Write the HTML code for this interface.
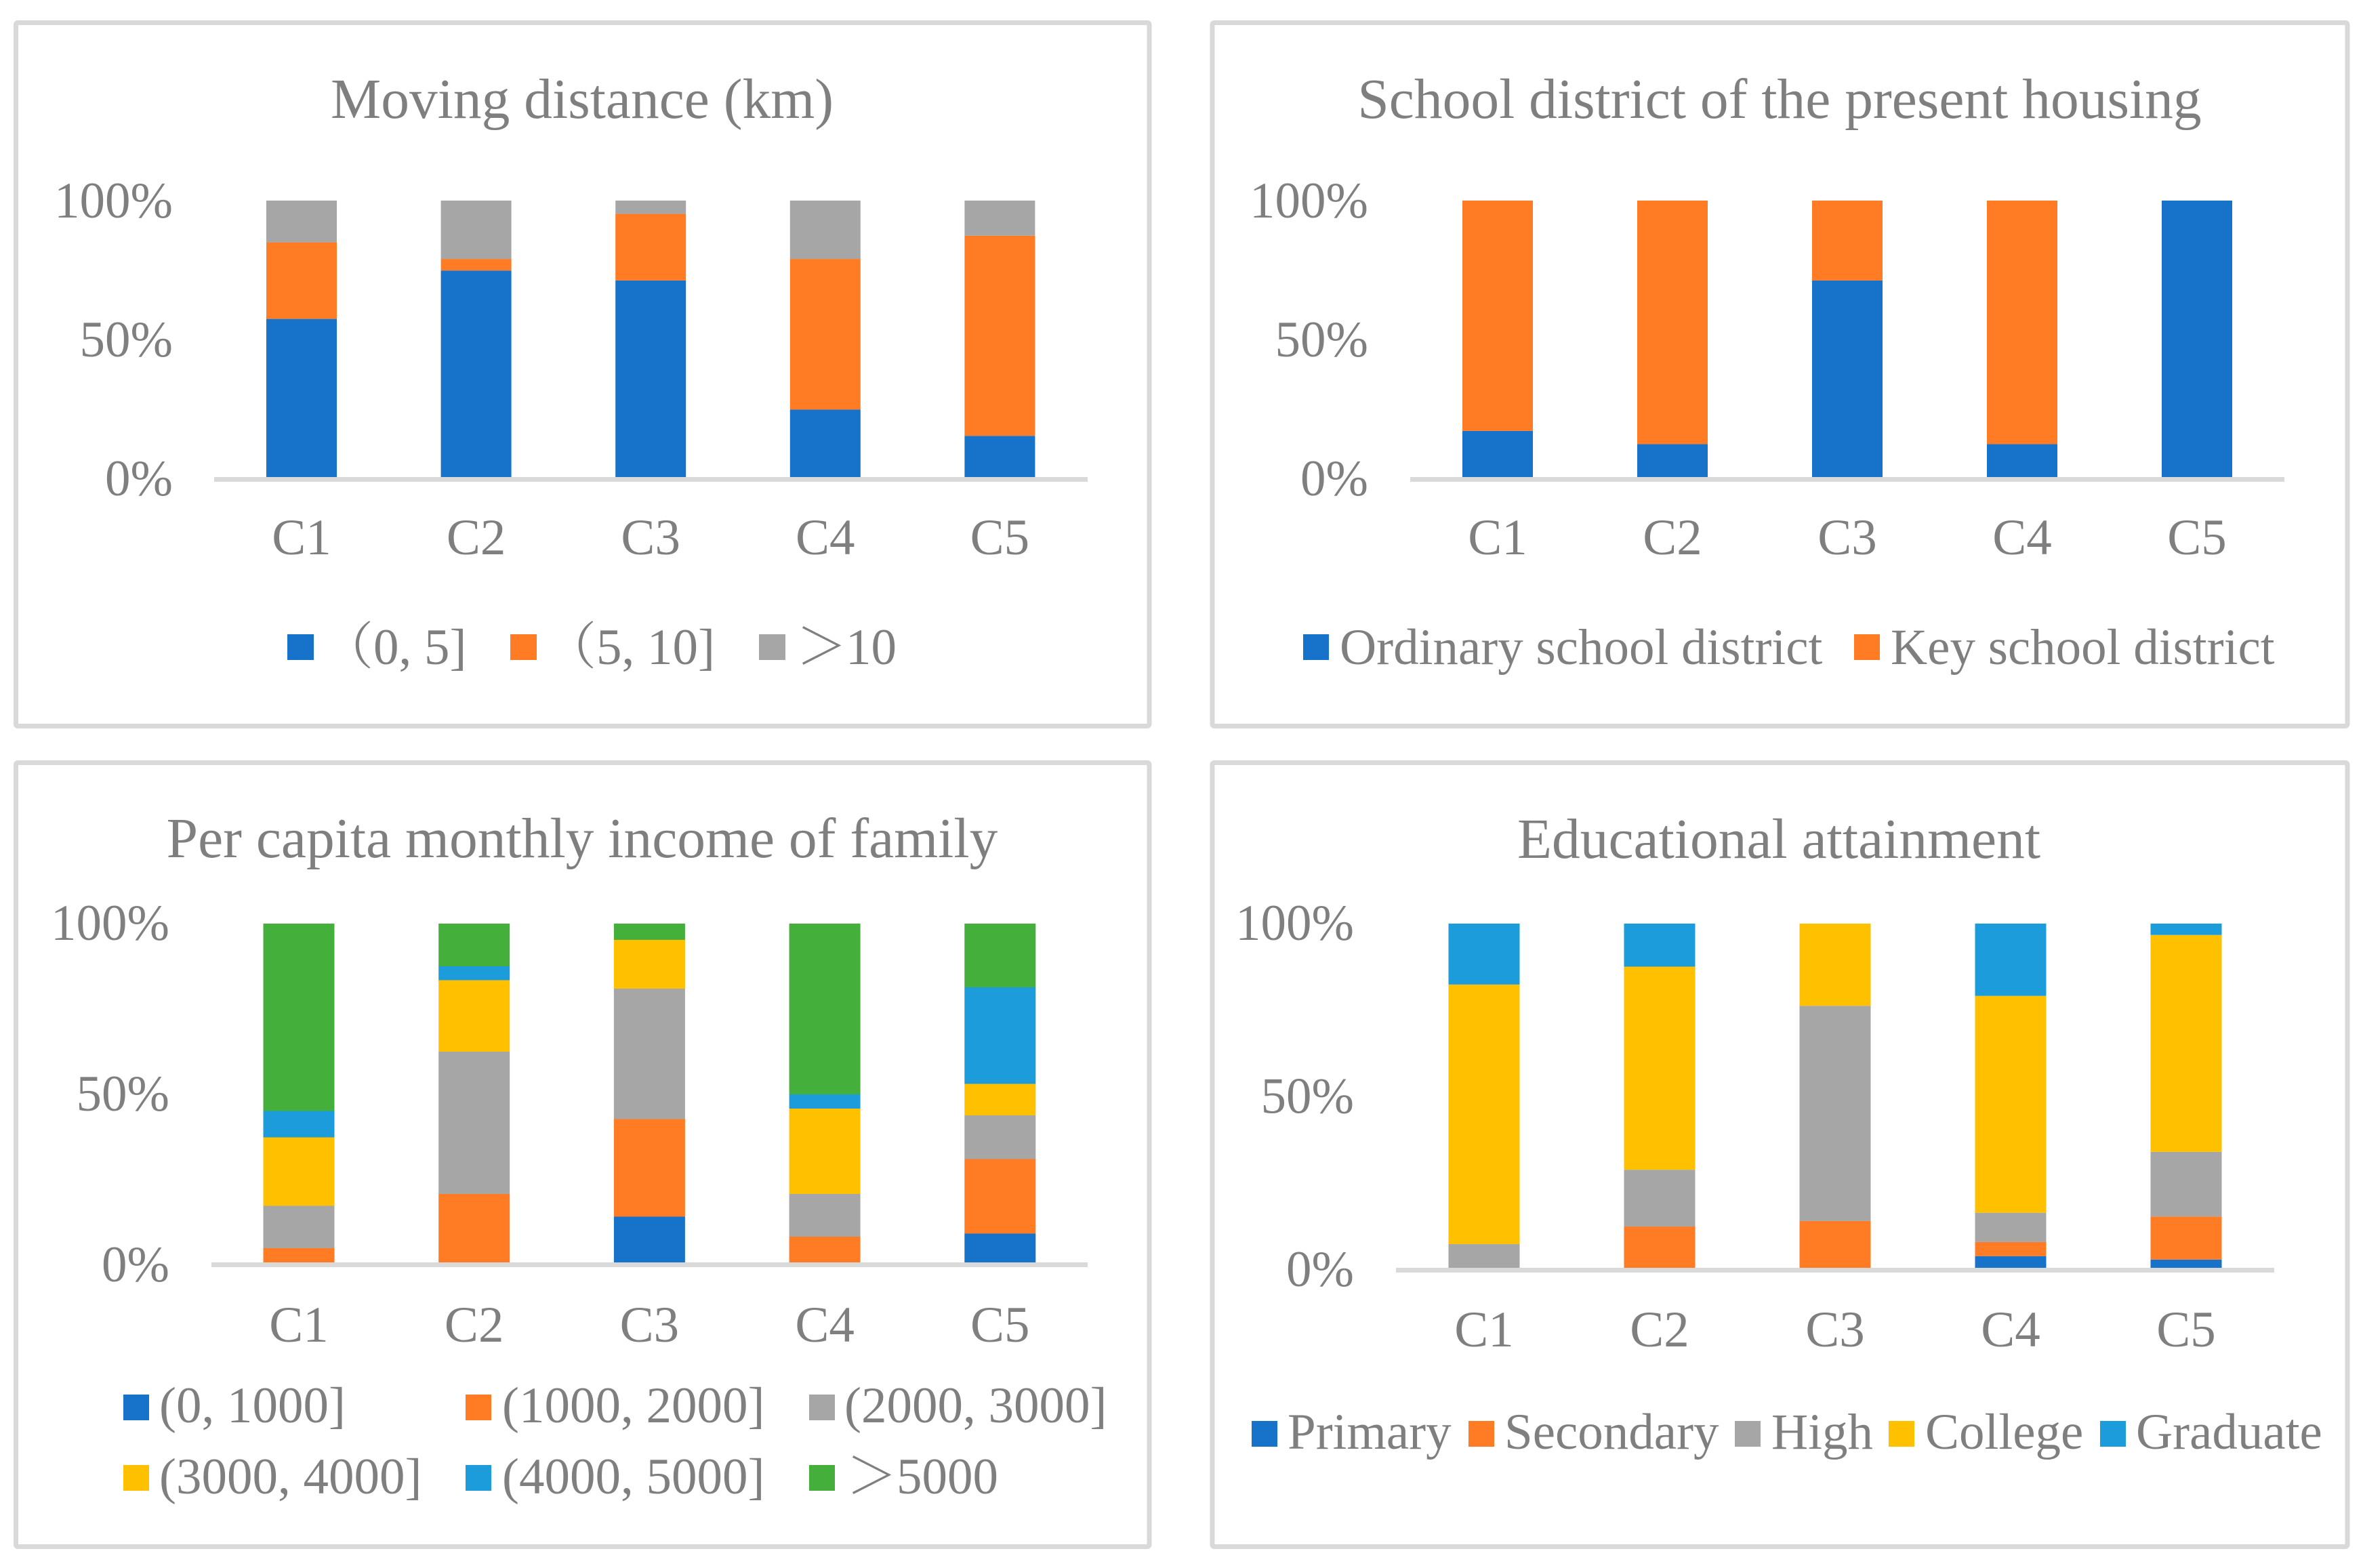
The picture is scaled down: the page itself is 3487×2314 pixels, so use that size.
<!DOCTYPE html>
<html lang="en">
<head>
<meta charset="utf-8">
<title>Stacked bar charts by cluster</title>
<style>
html,body{margin:0;padding:0;background:#fff;}
svg{display:block;}
text{font-family:"Liberation Serif","Noto Serif CJK SC",serif;fill:#7f7f7f;font-size:75px;}
.title{font-size:83.5px;text-anchor:middle;}
.panel{fill:#fff;stroke:#d9d9d9;stroke-width:7;}
</style>
</head>
<body>
<svg id="root" xmlns="http://www.w3.org/2000/svg" width="3487" height="2314" viewBox="0 0 3487 2314">
  <rect width="3487" height="2314" fill="#fff"/>

  <g id="chart-distance">
    <rect class="panel" x="23.5" y="33.5" width="1672.5" height="1038" rx="3"/>
    <text class="title" x="859" y="174">Moving distance (km)</text>
    <g>
      <rect x="424" y="936" width="39" height="38" fill="#1772c9"/>
      <text x="476" y="980">（0, 5]</text>
      <rect x="753" y="936" width="39" height="38" fill="#ff7c25"/>
      <text x="805" y="980">（5, 10]</text>
      <rect x="1120" y="936" width="39" height="38" fill="#a6a6a6"/>
      <text x="1175" y="980">＞<tspan x="1248">10</tspan></text>
    </g>
  </g>

  <g id="chart-school">
    <rect class="panel" x="1789" y="33.5" width="1675" height="1038" rx="3"/>
    <text class="title" x="2626" y="174">School district of the present housing</text>
    <g>
      <rect x="1923" y="936" width="38" height="38" fill="#1772c9"/>
      <text x="1977" y="980">Ordinary school district</text>
      <rect x="2736" y="936" width="38" height="38" fill="#ff7c25"/>
      <text x="2790" y="980">Key school district</text>
    </g>
  </g>

  <g id="chart-income">
    <rect class="panel" x="23.5" y="1125.5" width="1672.5" height="1157" rx="3"/>
    <text class="title" x="859" y="1265">Per capita monthly income of family</text>
    <g>
      <rect x="182" y="2058" width="38" height="38" fill="#1772c9"/>
      <text x="235" y="2099">(0, 1000]</text>
      <rect x="687" y="2058" width="38" height="38" fill="#ff7c25"/>
      <text x="741" y="2099">(1000, 2000]</text>
      <rect x="1194" y="2058" width="38" height="38" fill="#a6a6a6"/>
      <text x="1246" y="2099">(2000, 3000]</text>
      <rect x="182" y="2162" width="38" height="38" fill="#ffc000"/>
      <text x="235" y="2204">(3000, 4000]</text>
      <rect x="687" y="2162" width="38" height="38" fill="#1c9cdb"/>
      <text x="741" y="2204">(4000, 5000]</text>
      <rect x="1194" y="2162" width="38" height="38" fill="#45af3c"/>
      <text x="1249" y="2204">＞<tspan x="1323">5000</tspan></text>
    </g>
  </g>

  <g id="chart-education">
    <rect class="panel" x="1789" y="1125.5" width="1675" height="1157" rx="3"/>
    <text class="title" x="2625" y="1266">Educational attainment</text>
    <g>
      <rect x="1847" y="2097" width="38" height="38" fill="#1772c9"/>
      <text x="1900" y="2138">Primary</text>
      <rect x="2167" y="2097" width="38" height="38" fill="#ff7c25"/>
      <text x="2220" y="2138">Secondary</text>
      <rect x="2560" y="2097" width="38" height="38" fill="#a6a6a6"/>
      <text x="2614" y="2138">High</text>
      <rect x="2787" y="2097" width="38" height="38" fill="#ffc000"/>
      <text x="2841" y="2138">College</text>
      <rect x="3099" y="2097" width="38" height="38" fill="#1c9cdb"/>
      <text x="3152" y="2138">Graduate</text>
    </g>
  </g>
</svg>

<script>
// Shared labels
const clusterLabels = ['C1', 'C2', 'C3', 'C4', 'C5'];
const percentTicks = [0, 50, 100];

// Moving distance (km), percent by series
const distanceUnder5 = [57.2, 74.7, 71.1, 24.4, 14.9];
const distance5to10 = [27.7, 4.2, 24.1, 54.5, 72.4];
const distanceOver10 = [15.1, 21.1, 4.8, 21.1, 12.7];

// School district of the present housing, percent by series
const schoolOrdinary = [16.7, 11.9, 71.1, 11.9, 100];
const schoolKey = [83.3, 88.1, 28.9, 88.1, 0];

// Per capita monthly income of family, percent by series
const income0to1000 = [0, 0, 13.5, 0, 8.5];
const income1000to2000 = [4.2, 20.2, 28.8, 7.6, 22];
const income2000to3000 = [12.5, 42, 38.5, 12.6, 12.9];
const income3000to4000 = [20.2, 21.1, 14.4, 25.2, 9.3];
const income4000to5000 = [7.8, 4.1, 0, 4.2, 28.5];
const incomeOver5000 = [55.3, 12.6, 4.8, 50.4, 18.8];

// Educational attainment, percent by series
const eduPrimary = [0, 0, 0, 3.4, 2.4];
const eduSecondary = [0, 12, 13.6, 4.1, 12.5];
const eduHigh = [6.9, 16.5, 62.5, 8.5, 18.8];
const eduCollege = [75.4, 59, 23.9, 63, 63];
const eduGraduate = [17.7, 12.5, 0, 21, 3.3];

const SVG_NS = 'http://www.w3.org/2000/svg';

function drawChart(groupId, series, colors, box) {
  const group = document.getElementById(groupId);
  const scaleX = function (i) { return box.firstCenter + i * box.step; };
  const scaleY = function (v) { return box.baseY - (v / 100) * (box.baseY - box.topY); };
  const tickY = function (v) { return box.tickBase - (v / 100) * (box.tickBase - box.tickTop); };

  clusterLabels.forEach(function (label, i) {
    let total = 0;
    series.forEach(function (values, s) {
      const value = values[i];
      if (value > 0) {
        const rect = document.createElementNS(SVG_NS, 'rect');
        
        
        rect.setAttribute('x', scaleX(i) - box.barWidth / 2);
        rect.setAttribute('y', scaleY(total + value));
        rect.setAttribute('width', box.barWidth);
        rect.setAttribute('height', scaleY(total) - scaleY(total + value));
        rect.setAttribute('fill', colors[s]);
        group.appendChild(rect);
      }
      total += value;
    });

    const cat = document.createElementNS(SVG_NS, 'text');
    
    
    cat.setAttribute('x', scaleX(i));
    cat.setAttribute('y', box.catY);
    cat.setAttribute('text-anchor', 'middle');
    cat.textContent = label;
    group.appendChild(cat);
  });

  const axis = document.createElementNS(SVG_NS, 'rect');
  
  
  axis.setAttribute('x', box.axisLeft);
  axis.setAttribute('y', box.baseY);
  axis.setAttribute('width', box.axisRight - box.axisLeft);
  axis.setAttribute('height', 7);
  axis.setAttribute('fill', '#d9d9d9');
  group.appendChild(axis);

  percentTicks.forEach(function (tick) {
    const t = document.createElementNS(SVG_NS, 'text');
    
    
    t.setAttribute('x', box.tickRight);
    t.setAttribute('y', tickY(tick));
    t.setAttribute('text-anchor', 'end');
    t.textContent = tick + '%';
    group.appendChild(t);
  });
}

drawChart('chart-distance',
  [distanceUnder5, distance5to10, distanceOver10],
  ['#1772c9', '#ff7c25', '#a6a6a6'],
  { firstCenter: 445, step: 257.6, barWidth: 104, topY: 296, baseY: 704, axisLeft: 316, axisRight: 1605, tickRight: 255, tickBase: 731, tickTop: 321, catY: 818 });

drawChart('chart-school',
  [schoolOrdinary, schoolKey],
  ['#1772c9', '#ff7c25'],
  { firstCenter: 2210, step: 258, barWidth: 104, topY: 296, baseY: 704, axisLeft: 2081, axisRight: 3371, tickRight: 2019, tickBase: 731, tickTop: 321, catY: 818 });

drawChart('chart-income',
  [income0to1000, income1000to2000, income2000to3000, income3000to4000, income4000to5000, incomeOver5000],
  ['#1772c9', '#ff7c25', '#a6a6a6', '#ffc000', '#1c9cdb', '#45af3c'],
  { firstCenter: 441, step: 258.7, barWidth: 105, topY: 1363, baseY: 1863, axisLeft: 312, axisRight: 1605, tickRight: 250, tickBase: 1891, tickTop: 1387, catY: 1980 });

drawChart('chart-education',
  [eduPrimary, eduSecondary, eduHigh, eduCollege, eduGraduate],
  ['#1772c9', '#ff7c25', '#a6a6a6', '#ffc000', '#1c9cdb'],
  { firstCenter: 2190, step: 259, barWidth: 105, topY: 1363, baseY: 1871, axisLeft: 2060, axisRight: 3356, tickRight: 1998, tickBase: 1898, tickTop: 1387, catY: 1987 });
</script>
</body>
</html>
